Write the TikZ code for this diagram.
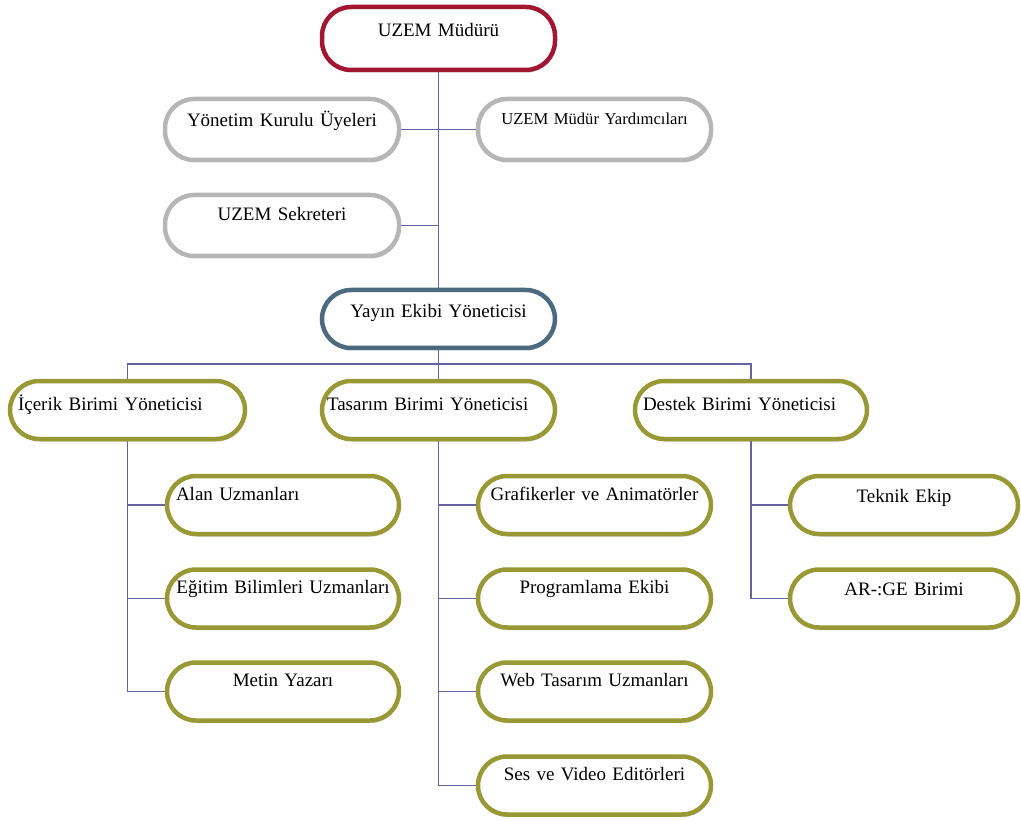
\documentclass[tikz,border=0pt]{standalone}
\usepackage{fontspec}
\setmainfont{Liberation Serif}
\usetikzlibrary{backgrounds,shadows}
\definecolor{crim}{RGB}{163,22,50}
\definecolor{grayb}{RGB}{182,182,182}
\definecolor{slate}{RGB}{76,106,126}
\definecolor{olivb}{RGB}{152,152,52}
\definecolor{conn}{RGB}{100,100,160}
\tikzset{
  box/.style={draw, rounded corners=29pt, line width=4.5pt, fill=white,
    inner xsep=8pt, inner ysep=0pt, align=center,
    font=\fontsize{19}{22}\selectfont,
    drop shadow={shadow xshift=1pt, shadow yshift=-2.5pt, opacity=0.18, fill=black}},
  redbox/.style={box, draw=crim, text height=30pt, text depth=33pt},
  graybox/.style={box, draw=grayb, text height=28pt, text depth=33pt},
  bluebox/.style={box, draw=slate, text height=28pt, text depth=30pt},
  unitbox/.style={box, draw=olivb, text height=29pt, text depth=29pt},
  subbox/.style={box, draw=olivb, text height=24pt, text depth=34pt},
  link/.style={draw=conn, line width=1.3pt},
}
\begin{document}
\begin{tikzpicture}[x=1pt,y=-1pt]
\useasboundingbox (0,0) rectangle (1021,821);
% top levels
\node[redbox, text width=217pt] (mud) at (438.5,38.5) {UZEM Müdürü};
\node[graybox, text width=218pt] (ykU) at (282,129.5) {Yönetim Kurulu Üyeleri};
\node[graybox, text width=217pt, text height=26pt, text depth=35pt, font=\fontsize{16.6}{20}\selectfont] (myard) at (594.5,129.5) {UZEM Müdür Yardımcıları};
\node[graybox, text width=218pt, text height=26pt, text depth=35pt] (sek) at (282,225.5) {UZEM Sekreteri};
\node[bluebox, text width=217pt] (yay) at (438.5,319) {Yayın Ekibi Yöneticisi};
% units
\node[unitbox, text width=219pt, align=left] (icerik) at (127.5,410) {İçerik Birimi Yöneticisi};
\node[unitbox, align=left, inner xsep=5pt, text width=223pt] (tasarim) at (438.5,410) {Tasarım Birimi Yöneticisi};
\node[unitbox, text width=216pt, align=left] (destek) at (751,410) {Destek Birimi Yöneticisi};
% left column
\node[subbox, text width=214pt, inner xsep=9pt, align=left] (alan) at (283,505) {Alan Uzmanları};
\node[subbox, text width=216pt] (egitim) at (283,598.5) {Eğitim Bilimleri Uzmanları};
\node[subbox, text width=216pt] (metin) at (283,691.5) {Metin Yazarı};
% middle column
\node[subbox, text width=217pt] (graf) at (594.5,505) {Grafikerler ve Animatörler};
\node[subbox, text width=217pt] (prog) at (594.5,598.5) {Programlama Ekibi};
\node[subbox, text width=217pt] (web) at (594.5,691.5) {Web Tasarım Uzmanları};
\node[subbox, text width=217pt] (ses) at (594.5,785.5) {Ses ve Video Editörleri};
% right column
\node[subbox, text width=212pt, text height=26pt, text depth=32pt] (teknik) at (904,505) {Teknik Ekip};
\node[subbox, text width=212pt, text height=26pt, text depth=32pt] (arge) at (904,598.5) {AR-:GE Birimi};
\coordinate (bus) at (438.5,364);
\begin{pgfonlayer}{background}
\draw[link] (mud.south) -- (yay.north);
\draw[link] (ykU.east) -- (myard.west);
\draw[link] (sek.east) -- (sek.east -| mud.south);
\draw[link] (yay.south) -- (tasarim.north);
\draw[link] (icerik.north) |- (bus) -| (destek.north);
\draw[link] (icerik.south) |- (metin.west);
\draw[link] (alan.west) -- (alan.west -| icerik.south);
\draw[link] (egitim.west) -- (egitim.west -| icerik.south);
\draw[link] (tasarim.south) |- (ses.west);
\draw[link] (graf.west) -- (graf.west -| tasarim.south);
\draw[link] (prog.west) -- (prog.west -| tasarim.south);
\draw[link] (web.west) -- (web.west -| tasarim.south);
\draw[link] (destek.south) |- (arge.west);
\draw[link] (teknik.west) -- (teknik.west -| destek.south);
\end{pgfonlayer}
\end{tikzpicture}
\end{document}
